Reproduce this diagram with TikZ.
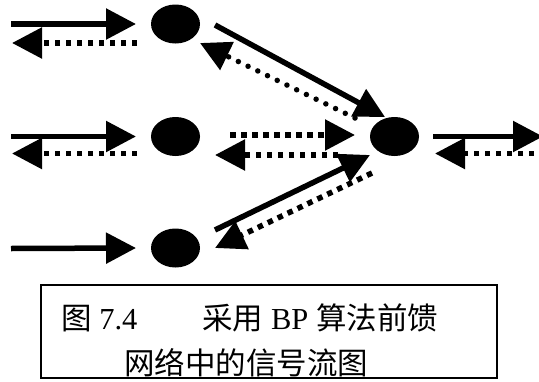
\documentclass[tikz,border=0pt]{standalone}
\usepackage{fontspec}
\setmainfont{Liberation Serif}
\newfontfamily\cjk{Noto Sans CJK SC}
\usetikzlibrary{arrows.meta,shapes.geometric,calc}
\tikzset{
  neuron/.style={ellipse, fill=black, minimum width=49pt, minimum height=39pt, inner sep=0pt},
  solidarrow/.style={line width=5.5pt, -{Triangle[length=30pt,width=30pt]}},
  sqdotarrow/.style={line width=5.5pt, dash pattern=on 5.5pt off 5.5pt, -{Triangle[length=30pt,width=30pt]}},
  rddotarrow/.style={line width=5.5pt, line cap=round, dash pattern=on 0pt off 10.8pt, -{Triangle[length=30pt,width=30pt]}},
  captext/.style={anchor=base west, inner sep=0pt, font=\fontsize{30.5pt}{36pt}\selectfont}
}
\begin{document}
\begin{tikzpicture}[x=1pt,y=-1pt]
\useasboundingbox (0,0) rectangle (539,381);
\clip (0,0) rectangle (539,381);
% neurons
\node[neuron] (n1) at (175.5,24) {};
\node[neuron] (n2) at (175.5,136.5) {};
\node[neuron] (n3) at (175.5,248) {};
\node[neuron] (n4) at (394.5,136.5) {};
% free ends
\coordinate (in1) at (11,24);
\coordinate (out1) at (12,43);
\coordinate (in2) at (11,136.5);
\coordinate (out2) at (12,153.5);
\coordinate (in3) at (11,248.5);
\coordinate (out4) at (543,136.5);
\coordinate (in4) at (545,153.5);
% top row
\draw[solidarrow] (in1) -- ($(n1)+(-39.5,0)$);
\draw[sqdotarrow] ($(n1)+(-38.5,19)$) -- (out1);
% middle row
\draw[solidarrow] (in2) -- ($(n2)+(-39.5,0)$);
\draw[sqdotarrow] ($(n2)+(-38.5,17)$) -- (out2);
\draw[sqdotarrow] ($(n2)+(54.5,-1.5)$) -- ($(n4)+(-39.5,-1.5)$);
\draw[sqdotarrow] ($(n4)+(-56.5,18.5)$) -- ($(n2)+(39.5,18.5)$);
% bottom row
\draw[solidarrow] (in3) -- ($(n3)+(-39.5,0)$);
% output
\draw[solidarrow] ($(n4)+(38.5,0)$) -- (out4);
\draw[sqdotarrow] (in4) -- ($(n4)+(40.5,17)$);
% top diagonal
\draw[solidarrow] ($(n1)+(39.5,1)$) -- ($(n4)+(-9.5,-19.5)$);
\draw[rddotarrow] ($(n4)+(-39.5,-18.5)$) -- ($(n1)+(24.5,19)$);
% bottom diagonal
\draw[solidarrow] ($(n3)+(39.5,-18)$) -- ($(n4)+(-24.5,18.5)$);
\draw[sqdotarrow] ($(n4)+(-22.5,36.5)$) -- ($(n3)+(39.5,0)$);
% caption
\node[captext] (c1) at (61,329.5) {{\cjk 图} 7.4\hspace{65pt}{\cjk 采用} BP {\cjk 算法前馈}};
\node[captext] (c2) at (124,374.5) {\cjk 网络中的信号流图};
\node[draw=black, line width=1.8pt, minimum width=456pt, minimum height=93pt, inner sep=0pt] (cap) at (269,331.5) {};
\end{tikzpicture}
\end{document}
